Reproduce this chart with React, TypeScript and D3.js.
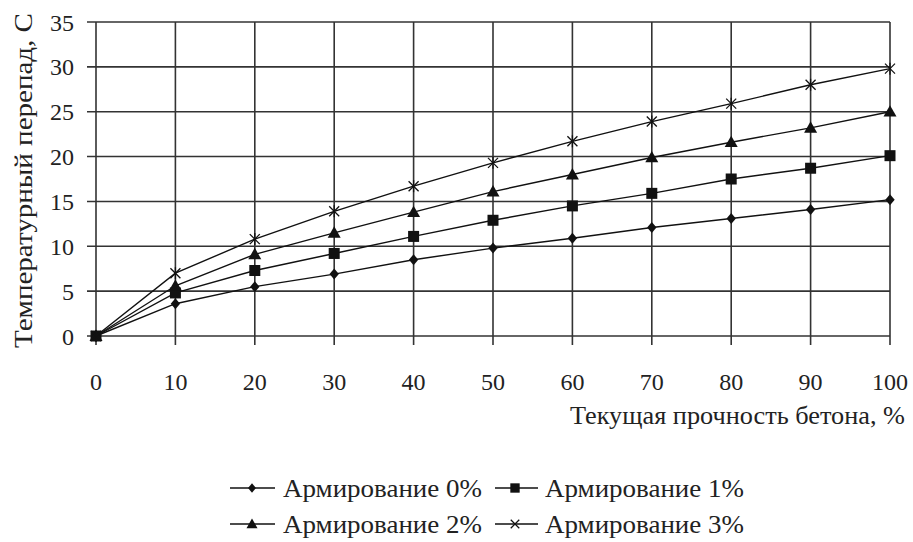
import React from "react";
import * as d3 from "d3";

const xValues = [0, 10, 20, 30, 40, 50, 60, 70, 80, 90, 100];
const s0 = [0, 3.6, 5.5, 6.9, 8.5, 9.8, 10.9, 12.1, 13.1, 14.1, 15.2];
const s1 = [0, 4.8, 7.3, 9.2, 11.1, 12.9, 14.5, 15.9, 17.5, 18.7, 20.1];
const s2 = [0, 5.6, 9.1, 11.5, 13.8, 16.1, 18.0, 19.9, 21.6, 23.2, 25.0];
const s3 = [0, 7.0, 10.8, 13.9, 16.7, 19.3, 21.7, 23.9, 25.9, 28.0, 29.8];
const seriesNames = ["Армирование 0%", "Армирование 1%", "Армирование 2%", "Армирование 3%"];
const markerTypes = ["diamond", "square", "triangle", "x"];
const yTicks = [0, 5, 10, 15, 20, 25, 30, 35];
const xTitle = "Текущая прочность бетона, %";
const yTitle = "Температурный перепад, С";

const W = 913, H = 542;
const font = "'Liberation Serif', 'Times New Roman', serif";

function Marker({ type, x, y, s = 1 }: { type: string; x: number; y: number; s?: number }) {
  if (type === "diamond") {
    const r = 5.5 * s;
    return <path d={`M${x},${y - r}L${x + r * 0.85},${y}L${x},${y + r}L${x - r * 0.85},${y}Z`} fill="#111" />;
  }
  if (type === "square") {
    const r = 5.5 * s;
    return <rect x={x - r} y={y - r} width={2 * r} height={2 * r} fill="#111" />;
  }
  if (type === "triangle") {
    const r = 6.5 * s;
    return <path d={`M${x},${y - r}L${x + r},${y + r * 0.75}L${x - r},${y + r * 0.75}Z`} fill="#111" />;
  }
  const r = 5 * s;
  return (
    <g stroke="#111" strokeWidth={1.3}>
      <line x1={x - r} y1={y - r} x2={x + r} y2={y + r} />
      <line x1={x - r} y1={y + r} x2={x + r} y2={y - r} />
      {s === 1 ? <line x1={x} y1={y - r - 1} x2={x} y2={y + r + 1} /> : null}
    </g>
  );
}

export default function App() {
  const x = d3.scaleLinear().domain([0, 100]).range([96, 890]);
  const y = d3.scaleLinear().domain([0, 35]).range([336, 22]);
  const all = [s0, s1, s2, s3];
  const line = d3
    .line<number>()
    .x((_, i) => x(xValues[i]))
    .y((d) => y(d));

  const cols = [
    { lx1: 230, lx2: 275, mx: 252, tx: 283 },
    { lx1: 495, lx2: 538, mx: 515, tx: 545 },
  ];
  const legendY = [497, 533];

  return (
    <svg width={W} height={H} style={{ position: "absolute", left: 0, top: 0, background: "#fff" }}>
      <rect width={W} height={H} fill="#fff" />
      {yTicks.map((t) => (
        <line key={"h" + t} x1={87} x2={x(100)} y1={y(t)} y2={y(t)} stroke="#333" strokeWidth={1.6} />
      ))}
      {xValues.map((t) => (
        <line key={"v" + t} x1={x(t)} x2={x(t)} y1={y(35)} y2={345} stroke="#333" strokeWidth={1.6} />
      ))}
      {yTicks.map((t) => (
        <text key={"yl" + t} x={74} y={y(t) + 8.5} textAnchor="end" fontFamily={font} fontSize={24} fill="#222">
          {t}
        </text>
      ))}
      {xValues.map((t) => (
        <text key={"xl" + t} x={x(t)} y={390} textAnchor="middle" fontFamily={font} fontSize={24} fill="#222">
          {t}
        </text>
      ))}
      <text x={570} y={424} textLength={335} lengthAdjust="spacingAndGlyphs" fontFamily={font} fontSize={25} fill="#222">
        {xTitle}
      </text>
      <text
        transform={`translate(32,${(13 + 348) / 2}) rotate(-90)`}
        textAnchor="middle"
        textLength={335}
        lengthAdjust="spacingAndGlyphs"
        fontFamily={font}
        fontSize={25}
        fill="#222"
      >
        {yTitle}
      </text>
      {all.map((s, si) => (
        <g key={"s" + si}>
          <path d={line(s) || ""} fill="none" stroke="#111" strokeWidth={1.4} />
          {s.map((v, i) => (
            <Marker key={i} type={markerTypes[si]} x={x(xValues[i])} y={y(v)} />
          ))}
        </g>
      ))}
      {seriesNames.map((name, i) => {
        const c = cols[i % 2];
        const by = legendY[Math.floor(i / 2)];
        const my = by - 9;
        return (
          <g key={"lg" + i}>
            <line x1={c.lx1} x2={c.lx2} y1={my} y2={my} stroke="#111" strokeWidth={1.5} />
            <Marker type={markerTypes[i]} x={c.mx} y={my} s={0.85} />
            <text x={c.tx} y={by} textLength={199} lengthAdjust="spacingAndGlyphs" fontFamily={font} fontSize={25} fill="#222">
              {name}
            </text>
          </g>
        );
      })}
    </svg>
  );
}
